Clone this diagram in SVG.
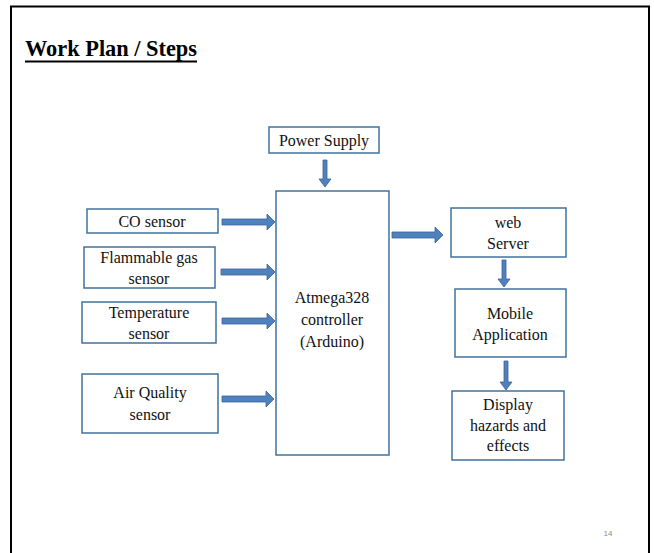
<svg xmlns="http://www.w3.org/2000/svg" width="654" height="553" viewBox="0 0 654 553">
<defs>
<style>
.box{fill:#fff;stroke:#41719C;stroke-width:1.5}
.t{font-family:"Liberation Serif","Times New Roman",serif;font-size:16px;fill:#111;text-anchor:middle}
.arr{fill:#4F81BD;stroke:#3A639A;stroke-width:0.8}
</style>
</defs>
<rect width="654" height="553" fill="#fff"/>
<path d="M11,553 V6.5 H649 V553" fill="none" stroke="#000" stroke-width="2"/>
<text x="25" y="56" font-family="Liberation Serif,serif" font-weight="bold" font-size="24" textLength="172" lengthAdjust="spacingAndGlyphs" fill="#000">Work Plan / Steps</text>
<line x1="25" y1="61.5" x2="197" y2="61.5" stroke="#000" stroke-width="1.8"/>
<text x="608" y="536" font-family="Liberation Sans,sans-serif" font-size="8" fill="#8a8a8a" text-anchor="middle">14</text>

<g id="power"><rect class="box" x="269" y="127" width="110" height="26"/><text class="t" x="324" y="146">Power Supply</text></g>
<g id="controller"><rect class="box" x="276" y="191" width="113" height="264"/><text class="t" x="332" y="303">Atmega328</text><text class="t" x="332" y="325">controller</text><text class="t" x="332" y="347">(Arduino)</text></g>
<g id="co"><rect class="box" x="87" y="209" width="131" height="24"/><text class="t" x="152" y="227">CO sensor</text></g>
<g id="flammable"><rect class="box" x="84" y="247" width="131" height="41"/><text class="t" x="149" y="263">Flammable gas</text><text class="t" x="149" y="284">sensor</text></g>
<g id="temperature"><rect class="box" x="82" y="302" width="134" height="41"/><text class="t" x="149" y="318">Temperature</text><text class="t" x="149" y="339">sensor</text></g>
<g id="air"><rect class="box" x="82" y="374" width="136" height="59"/><text class="t" x="150" y="398">Air Quality</text><text class="t" x="150" y="420">sensor</text></g>
<g id="web"><rect class="box" x="451" y="208" width="115" height="49"/><text class="t" x="508" y="228">web</text><text class="t" x="508" y="249">Server</text></g>
<g id="mobile"><rect class="box" x="455" y="289" width="111" height="68"/><text class="t" x="510" y="319">Mobile</text><text class="t" x="510" y="340">Application</text></g>
<g id="display"><rect class="box" x="452" y="391" width="112" height="69"/><text class="t" x="508" y="410">Display</text><text class="t" x="508" y="431">hazards and</text><text class="t" x="508" y="451">effects</text></g>

<g id="connectors">
<path class="arr" d="M323,160 h4 v19 h4 l-6,8 l-6,-8 h4 z"/>
<path class="arr" d="M222,219 h45 v-5 l8,8 l-8,8 v-5 h-45 z"/>
<path class="arr" d="M221,269 h46 v-5 l8,8 l-8,8 v-5 h-46 z"/>
<path class="arr" d="M222,318 h45 v-5 l8,8 l-8,8 v-5 h-45 z"/>
<path class="arr" d="M222,396 h44 v-5 l8,8 l-8,8 v-5 h-44 z"/>
<path class="arr" d="M392,232 h43 v-5 l8,8 l-8,8 v-5 h-43 z"/>
<path class="arr" d="M502,260 h4 v19 h4 l-6,8 l-6,-8 h4 z"/>
<path class="arr" d="M504,361 h4 v21 h4 l-6,8 l-6,-8 h4 z"/>
</g>
</svg>
